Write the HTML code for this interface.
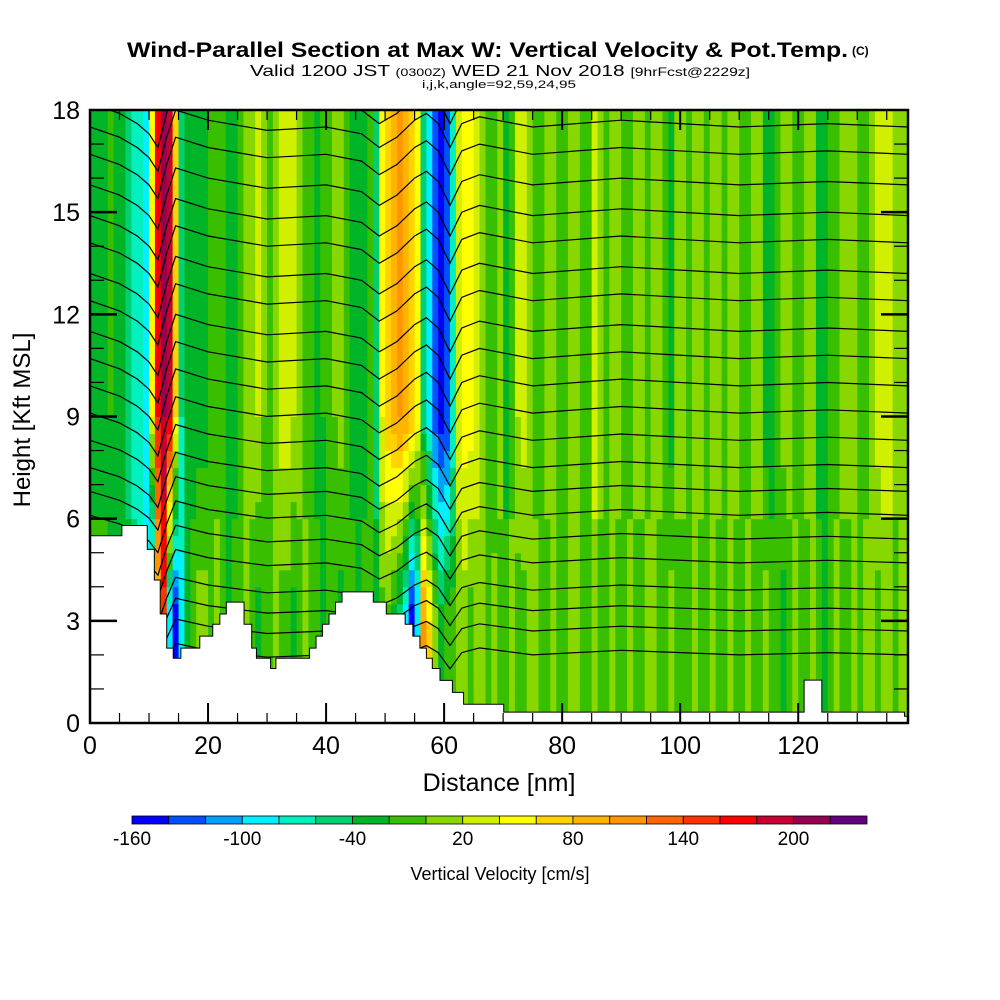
<!DOCTYPE html>
<html><head><meta charset="utf-8"><style>
html,body{margin:0;padding:0;background:#fff;}
svg{display:block;font-family:"Liberation Sans",sans-serif;}
</style></head><body>
<svg id="chart" width="1000" height="1000" viewBox="0 0 1000 1000" xmlns="http://www.w3.org/2000/svg">
<rect x="0" y="0" width="1000" height="1000" fill="#fff"/>
<g>
<text x="127" y="57" font-size="21" font-weight="bold" textLength="721" lengthAdjust="spacingAndGlyphs">Wind-Parallel Section at Max W: Vertical Velocity &amp; Pot.Temp.</text>
<text x="852" y="55" font-size="12" font-weight="bold">(C)</text>
<text x="250" y="76" font-size="16" textLength="500" lengthAdjust="spacingAndGlyphs">Valid 1200 JST <tspan font-size="11">(0300Z)</tspan> WED 21 Nov 2018 <tspan font-size="12">[9hrFcst@2229z]</tspan></text>
<text x="422" y="88" font-size="11" textLength="154" lengthAdjust="spacingAndGlyphs">i,j,k,angle=92,59,24,95</text>
</g>
<defs><clipPath id="plotclip"><rect x="90" y="110" width="818" height="613"/></clipPath></defs>
<g id="field" clip-path="url(#plotclip)"></g>
<g id="contours" clip-path="url(#plotclip)"></g>
<g id="terrain" clip-path="url(#plotclip)"></g>
<g id="axes"></g>
<g id="cbar"></g>
<text x="499" y="791" font-size="25" text-anchor="middle">Distance [nm]</text>
<text transform="translate(30,420) rotate(-90)" font-size="24" text-anchor="middle">Height [Kft MSL]</text>
<text x="500" y="880" font-size="18" text-anchor="middle">Vertical Velocity [cm/s]</text>
</svg>
<script>
// ---- data ----
const colorBins = ["#0000ff","#0050ff","#00a0ff","#00f0ff","#00f0c0","#00d070","#00b428","#38c000","#88d800","#d0f000","#ffff00","#ffd200","#ffb400","#ff9600","#ff6400","#ff3200","#ff0000","#c80032","#960050","#640080"];
const cbarTicks = [-160,-100,-40,20,80,140,200];
const xTicks = [0,20,40,60,80,100,120];
const yTicks = [0,3,6,9,12,15,18];
// vertical velocity (cm/s) per 1-nm column, upper level (>= 9 kft)
const wUpper = [-30,-30,-30,-20,-30,-40,-50,-70,-80,-90,
 40,160,200,180,60,-60,-40,-30,-30,-30,
 -20,-10,-10,-30,-30,-10,0,10,20,0,
 -10,10,30,30,20,10,-10,-20,-30,-20,
 -10,0,10,-10,-30,-30,-30,-20,-50,40,
 70,90,100,90,70,50,-50,-90,-130,-150,
 -140,-80,30,50,50,30,10,-10,-20,10,
 -30,-10,20,30,10,-10,-10,10,10,-10,
 -10,10,10,-10,-10,30,10,-10,10,10,
 -10,-10,10,10,-10,10,10,-10,-30,10,
 10,-10,10,10,-10,10,10,-10,10,10,
 -10,-10,10,10,-30,-30,-10,10,10,-10,
 -10,10,10,-30,-30,-10,-10,10,10,10,
 -10,-10,10,30,30,30,10,10,10];
// lower level (<= 3 kft)
const wLower = [-10,-10,-10,-30,-30,-10,-30,-50,-70,-100,
 -150,80,150,-100,-150,-90,-40,-10,10,10,
 -10,10,-10,-30,-10,-10,10,-10,-30,-10,
 -10,10,-10,-10,-30,-10,10,-10,-10,-30,
 -10,-10,-30,-10,-10,-30,-10,-10,-30,-10,
 -10,-30,-60,-90,-150,-100,100,60,10,-30,
 -10,-10,10,10,-10,10,10,-10,10,-10,
 -10,10,-10,-10,10,10,-10,-10,10,-10,
 -10,10,10,-10,-10,10,-10,-10,10,-10,
 -10,10,-10,-10,10,10,-10,-10,10,-10,
 -10,-10,10,-10,-10,10,-10,-10,10,-10,
 -10,10,-10,-10,10,-10,-10,-30,-10,10,
 -10,-10,10,-10,-30,-10,10,-10,-10,10,
 -10,10,10,-10,10,10,-10,10,10];
const lowLevel = 3, highLevel = 9; // kft, blend zone
// terrain steps: start distance (nm) and height (kft)
const terrainX = [0,5.4,9.7,10.9,11.9,13,14.1,15.4,18.6,20.8,22,23.1,26.1,27.4,28.2,30.6,31.5,37.2,38.3,39.4,40.5,41.6,42.7,48,50.2,53.4,54.7,55.9,57,58,59.3,61.4,63.3,70.1,121,124,138];
const terrainH = [5.5,5.8,5.1,4.2,3.2,2.2,1.9,2.2,2.55,2.9,3.2,3.55,2.9,2.2,1.9,1.6,1.9,2.2,2.55,2.9,3.2,3.55,3.85,3.55,3.2,2.9,2.55,2.2,1.9,1.6,1.25,0.9,0.55,0.32,1.26,0.32,0.2];
// potential temperature contours: base heights (kft) at right edge
const thetaBase = [18.2,17.5,16.7,15.8,14.9,14.1,13.2,12.4,11.5,10.7,9.9,9.1,8.3,7.5,6.8,6.1,5.4,4.7,3.9,3.3,2.7,2.0];
// displacement profile (kft) along distance
const dispX = [0,5,8,10,11.5,13,14.5,20,30,40,46,49,52,55,57,59,61,63,66,75,90,110,125,138.6];
const dispH = [0,-0.3,-0.6,-0.9,-1.3,-0.3,0.5,0.2,-0.1,0,-0.2,-0.6,-0.3,0.2,0.4,0.1,-0.6,0.1,0.3,0,0.2,0,0.1,0];

// ---- scales ----
const X0=90, X1=908, Y0=723, Y1=110, XMAX=138.6, YMAX=18;
const sx = d => X0 + d*(X1-X0)/XMAX;
const sy = h => Y0 - h*(Y0-Y1)/YMAX;
const NS='http://www.w3.org/2000/svg';
function mk(tag, parent){const e=document.createElementNS(NS,tag);parent.appendChild(e);return e;}
const colorFor = v => colorBins[Math.max(0,Math.min(19,Math.floor((v+160)/20)))];

// field: rows of 0.5 kft, blending lower to upper profiles
const field=document.getElementById('field');
const dh=0.5;
for(let h=0; h<YMAX; h+=dh){
  const hc=h+dh/2;
  const t=Math.max(0,Math.min(1,(hc-lowLevel)/(highLevel-lowLevel)));
  wUpper.forEach((vu,i)=>{
    const v=(1-t)*wLower[i]+t*vu;
    const r=mk('rect',field);
    
    
    r.setAttribute('x',sx(i)); r.setAttribute('width',sx(i+1)-sx(i)+0.5);
    r.setAttribute('y',sy(h+dh)); r.setAttribute('height',sy(h)-sy(h+dh)+0.5);
    r.setAttribute('fill',colorFor(v));
  });
}

// contours
const cg=document.getElementById('contours');
thetaBase.forEach(b=>{
  const amp = 0.6 + 0.4*Math.min(1,b/10);
  const pts = dispX.map((d,j)=>sx(d).toFixed(1)+','+sy(b+dispH[j]*amp).toFixed(1));
  const p=mk('polyline',cg);
  
  
  p.setAttribute('points',pts.join(' '));
  p.setAttribute('fill','none'); p.setAttribute('stroke','#000'); p.setAttribute('stroke-width','1.2');
});

// terrain
const tg=document.getElementById('terrain');
let tp='M'+sx(0)+','+sy(0);
terrainX.forEach((d,i)=>{
  const xe = i<terrainX.length-1 ? terrainX[i+1] : XMAX;
  tp+=' L'+sx(d)+','+sy(terrainH[i])+' L'+sx(xe)+','+sy(terrainH[i]);
});
tp+=' L'+sx(XMAX)+','+sy(0)+' Z';
const tpath=mk('path',tg);


tpath.setAttribute('d',tp); tpath.setAttribute('fill','#fff');
tpath.setAttribute('stroke','#000'); tpath.setAttribute('stroke-width','1');

// axes
const ag=document.getElementById('axes');
const frame=mk('rect',ag);


frame.setAttribute('x',X0);frame.setAttribute('y',Y1);frame.setAttribute('width',X1-X0);frame.setAttribute('height',Y0-Y1);
frame.setAttribute('fill','none');frame.setAttribute('stroke','#000');frame.setAttribute('stroke-width','2.5');
function line(x1,y1,x2,y2,w,name){const l=mk('line',ag);
  
  
  l.setAttribute('x1',x1);l.setAttribute('y1',y1);l.setAttribute('x2',x2);l.setAttribute('y2',y2);l.setAttribute('stroke','#000');l.setAttribute('stroke-width',w);}
for(let d=5; d<XMAX; d+=5){
  const major = d%20===0, L = major?20:10, w=major?2:1.2;
  line(sx(d),Y0,sx(d),Y0-L,w,'x-tick');
  line(sx(d),Y1,sx(d),Y1+L,w,'x-tick-top');
}
for(let h=1; h<YMAX; h++){
  const major = h%3===0, L = major?27:14, w=major?2.5:1.2;
  line(X0,sy(h),X0+L,sy(h),w,'y-tick');
  line(X1,sy(h),X1-L,sy(h),w,'y-tick-right');
}
xTicks.forEach(d=>{const t=mk('text',ag);
  
  
  t.setAttribute('x',sx(d));t.setAttribute('y',754);t.setAttribute('font-size','25');t.setAttribute('text-anchor','middle');t.textContent=d;});
yTicks.forEach(h=>{const t=mk('text',ag);
  
  
  t.setAttribute('x',80);t.setAttribute('y',sy(h)+9);t.setAttribute('font-size','25');t.setAttribute('text-anchor','end');t.textContent=h;});

// colorbar
const cb=document.getElementById('cbar');
const CB0=132, CB1=867, bw=(CB1-CB0)/colorBins.length;
colorBins.forEach((c,i)=>{const r=mk('rect',cb);
  
  
  r.setAttribute('x',CB0+i*bw);r.setAttribute('y',816);r.setAttribute('width',bw);r.setAttribute('height',8);
  r.setAttribute('fill',c);r.setAttribute('stroke','#000');r.setAttribute('stroke-width','0.8');});
cbarTicks.forEach(v=>{const t=mk('text',cb);
  
  
  t.setAttribute('x',CB0+(v+160)/20*bw);t.setAttribute('y',845);t.setAttribute('font-size','19');t.setAttribute('text-anchor','middle');t.textContent=v;});
</script>
</body></html>
